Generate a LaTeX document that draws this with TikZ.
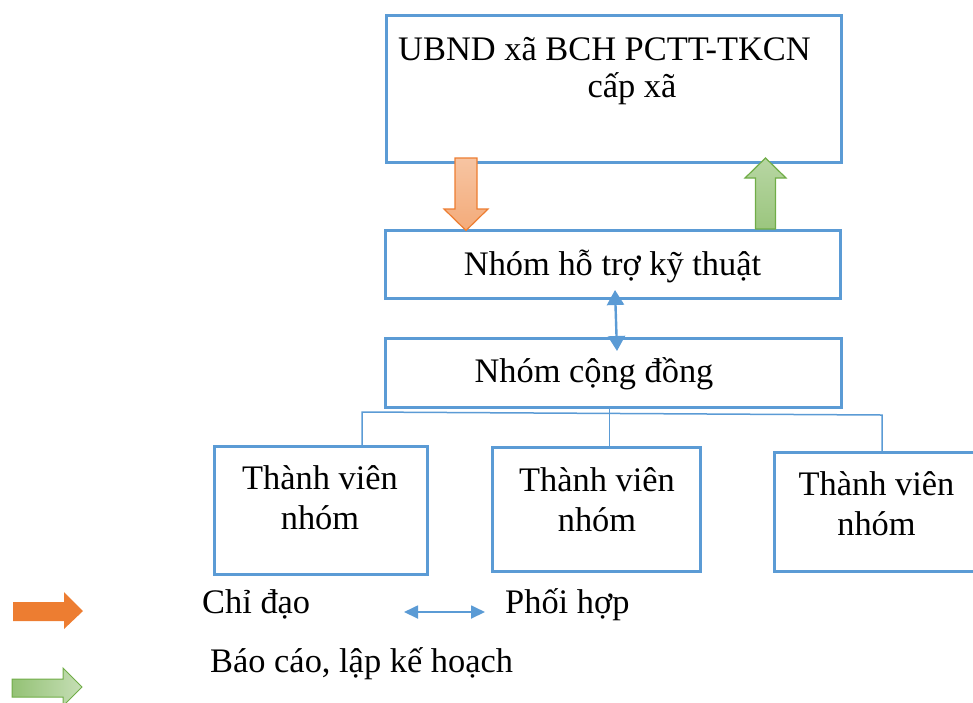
\documentclass[tikz,border=0pt]{standalone}
\usepackage{fontspec}
\setmainfont{Liberation Serif}
\usetikzlibrary{arrows.meta}

\definecolor{boxblue}{HTML}{5B9BD5}
\definecolor{orangeline}{HTML}{ED7D31}
\definecolor{greenline}{HTML}{70AD47}

\begin{document}
\begin{tikzpicture}[x=1pt, y=-1pt,
    box/.style={draw=boxblue, line width=3pt, inner sep=0pt, outer sep=0pt},
    txt/.style={font=\fontsize{34.4}{40}\selectfont, inner sep=0pt, align=center},
    tree/.style={draw=boxblue, line width=1.5pt},
    link/.style={draw=boxblue, line width=2.4pt, {Triangle[length=15pt, width=17pt]}-{Triangle[length=15pt, width=17pt]}},
    chidao/.style={draw=orangeline, line width=1.2pt, top color=orangeline!45!white, bottom color=orangeline!65!white},
    baocao/.style={draw=greenline, line width=1.2pt, top color=greenline!50!white, bottom color=greenline!70!white}]
    \useasboundingbox (0,0) rectangle (973,702);
    \clip (0,0) rectangle (973,702);

    % boxes
    \node[box, minimum width=455pt, minimum height=147pt] (ubnd) at (613.5,88.5) {};
    \node[box, minimum width=455pt, minimum height=68pt] (hotro) at (612.5,264) {};
    \node[box, minimum width=456pt, minimum height=69pt] (congdong) at (613,372.5) {};
    \node[box, minimum width=213pt, minimum height=128pt] (tv1) at (320.5,510) {};
    \node[box, minimum width=208pt, minimum height=124pt] (tv2) at (596,509) {};
    \node[box, minimum width=230pt, minimum height=119pt] (tv3) at (889,511.5) {};

    % texts (base = last line)
    \node[txt, anchor=base] (ubndA) at (604.5,60) {UBND xã BCH PCTT-TKCN};
    \node[txt, anchor=base] (ubndB) at (632,97) {cấp xã};
    \node[txt, anchor=base] (hotroT) at (612.5,275) {Nhóm hỗ trợ kỹ thuật};
    \node[txt, anchor=base] (congdongT) at (594,382) {Nhóm cộng đồng};
    \node[txt, anchor=base] (tv1T) at (320,529) {Thành viên\\nhóm};
    \node[txt, anchor=base] (tv2T) at (597,531) {Thành viên\\nhóm};
    \node[txt, anchor=base] (tv3T) at (876.5,535) {Thành viên\\nhóm};

    % tree below the community group
    \coordinate (stem) at (609.5,407);
    \coordinate (hl) at (362,412);
    \coordinate (hr) at (882,415);
    \draw[tree] (stem) -- (stem |- tv2.north);
    \draw[tree] (hl |- tv1.north) -- (hl) -- (hr) -- (hr |- tv3.north);

    % coordination between the two groups
    \coordinate (lnkA) at (615,290);
    \coordinate (lnkB) at (617,351);
    \draw[link] (lnkA) -- (lnkB);

    % block arrows between UBND and the support group
    \path[chidao] (455,158) -- (477,158) -- (477,209) -- (488,209) -- (466,230.5)
        -- (444,209) -- (455,209) -- cycle;
    \path[baocao] (755.5,229) -- (775.5,229) -- (775.5,178) -- (786,178) -- (765.5,158)
        -- (745,178) -- (755.5,178) -- cycle;

    % legend
    \fill[orangeline] (13,602) -- (64,602) -- (64,592) -- (83,611) -- (64,629)
        -- (64,621) -- (13,621) -- cycle;
    \path[draw=greenline, line width=1pt, left color=greenline!75!white, right color=greenline!40!white]
        (12,679) -- (63,679) -- (63,668) -- (82,687) -- (63,706) -- (63,697) -- (12,697) -- cycle;
    \node[txt, anchor=base west] (chidaoT) at (202,613) {Chỉ đạo};
    \coordinate (legA) at (404,612);
    \coordinate (legB) at (485,612);
    \draw[draw=boxblue, line width=1.8pt, {Triangle[length=14pt, width=13pt]}-{Triangle[length=14pt, width=13pt]}] (legA) -- (legB);
    \node[txt, anchor=base west] (phoihopT) at (505,613) {Phối hợp};
    \node[txt, anchor=base west] (baocaoT) at (210,672) {Báo cáo, lập kế hoạch};
\end{tikzpicture}
\end{document}
